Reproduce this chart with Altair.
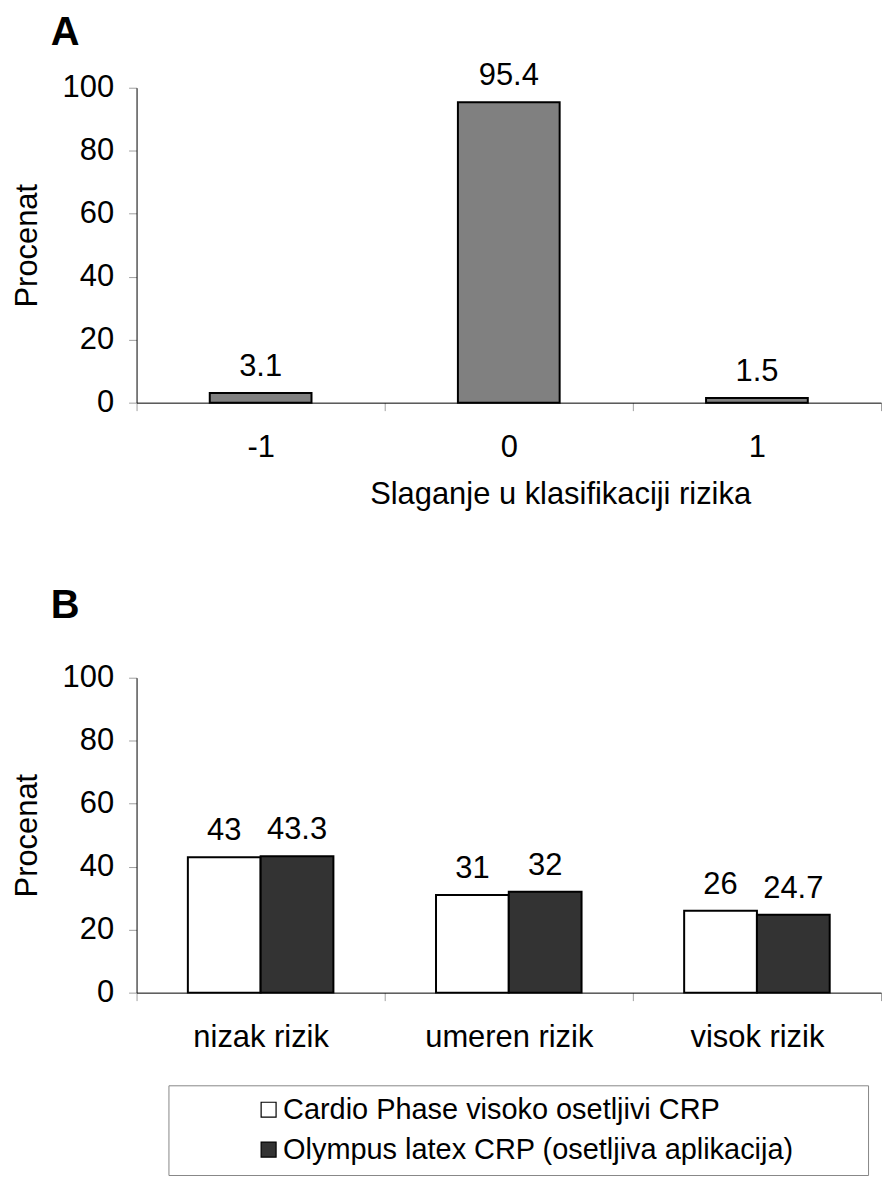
import altair as alt
import pandas as pd

FONT = "Arial, Liberation Sans, sans-serif"

# Panel A data
a_cats = ["-1", "0", "1"]
a_vals = [3.1, 95.4, 1.5]

# Panel B data
b_cats = ["nizak rizik", "umeren rizik", "visok rizik"]
series = ["Cardio Phase visoko osetljivi CRP", "Olympus latex CRP (osetljiva aplikacija)"]
b_cardio = [43, 31, 26]
b_olympus = [43.3, 32, 24.7]
series_colors = ["#ffffff", "#333333"]

y_ticks = [0, 20, 40, 60, 80, 100]

dfA = pd.DataFrame({"k": a_cats, "v": a_vals})
rows = []
for c, v1, v2 in zip(b_cats, b_cardio, b_olympus):
    rows.append({"k": c, "s": series[0], "v": v1})
    rows.append({"k": c, "s": series[1], "v": v2})
dfB = pd.DataFrame(rows)

W = 747
H = 316
FS = 31

yaxis = alt.Axis(values=y_ticks, tickSize=8, labelPadding=15, titlePadding=19)

# ---------- Panel A ----------
xA = alt.X("k:N", sort=a_cats, title="Slaganje u klasifikaciji rizika",
           scale=alt.Scale(paddingInner=0, paddingOuter=0),
           axis=alt.Axis(labelAngle=0, tickBand="extent", tickSize=8,
                         labelPadding=22, titlePadding=17, titleX=425))
yA = alt.Y("v:Q", scale=alt.Scale(domain=[0, 100], nice=False), title="Procenat", axis=yaxis)

barsA = alt.Chart(dfA).mark_bar(
    width=alt.RelativeBandSize(0.41), color="#808080", stroke="black", strokeWidth=2
).encode(x=xA, y=yA)
textA = alt.Chart(dfA).mark_text(
    dy=-17, baseline="alphabetic", fontSize=FS, font=FONT, color="black"
).encode(x=alt.X("k:N", sort=a_cats), y="v:Q", text=alt.Text("v:Q", format=".1~f"))

chartA = alt.layer(barsA, textA).properties(
    width=W, height=H,
    title=alt.TitleParams("A", anchor="start", frame="group", dx=-86, fontSize=40,
                          fontWeight="bold", font=FONT, color="black", offset=7),
)

# ---------- Panel B ----------
pad_right = "\u00a0" * 8 + "\u200b"
xB = alt.X("k:N", sort=b_cats, title=None,
           scale=alt.Scale(paddingInner=0, paddingOuter=0),
           axis=alt.Axis(labelAngle=0, tickBand="extent", tickSize=8, labelPadding=22))
yB = alt.Y("v:Q", scale=alt.Scale(domain=[0, 100], nice=False), title="Procenat", axis=yaxis)
xoff = alt.XOffset("s:N", sort=series, scale=alt.Scale(paddingInner=0, paddingOuter=0.705))

barsB = alt.Chart(dfB).mark_bar(stroke="black", strokeWidth=2).encode(
    x=xB, y=yB, xOffset=xoff,
    color=alt.Color("s:N", sort=series,
                    scale=alt.Scale(domain=series, range=series_colors),
                    legend=alt.Legend(
                        title=None, orient="none", legendX=32, legendY=409,
                        direction="vertical", padding=10, strokeColor="#888888",
                        fillColor="white", symbolType="square", symbolSize=225,
                        symbolStrokeColor="black", symbolStrokeWidth=1.2,
                        symbolOffset=76, labelOffset=0, rowPadding=10,
                        labelFontSize=29, labelFont=FONT, labelColor="black",
                        labelLimit=1000,
                        labelExpr="datum.label + '" + pad_right + "'")),
)
textB = alt.Chart(dfB).mark_text(
    dy=-17, baseline="alphabetic", fontSize=FS, font=FONT, color="black"
).encode(x=alt.X("k:N", sort=b_cats), xOffset=xoff, y="v:Q",
         text=alt.Text("v:Q", format=".1~f"))

chartB = alt.layer(barsB, textB).properties(
    width=W, height=H,
    title=alt.TitleParams("B", anchor="start", frame="group", dx=-86, fontSize=40,
                          fontWeight="bold", font=FONT, color="black", offset=36),
)

chart = alt.vconcat(chartA, chartB, spacing=77).resolve_scale(
    color="independent").resolve_legend(color="independent").properties(
    padding={"left": 3, "top": 3, "right": 0, "bottom": 0}
).configure_view(stroke=None).configure_axis(
    domainColor="black", domainWidth=1, tickColor="#a0a0a0", tickWidth=1,
    labelFont=FONT, labelFontSize=FS, labelColor="black",
    titleFont=FONT, titleFontSize=FS, titleColor="black", titleFontWeight="normal",
    grid=False,
)

chart.save("out.html", embed_options={"renderer": "svg", "actions": False})
